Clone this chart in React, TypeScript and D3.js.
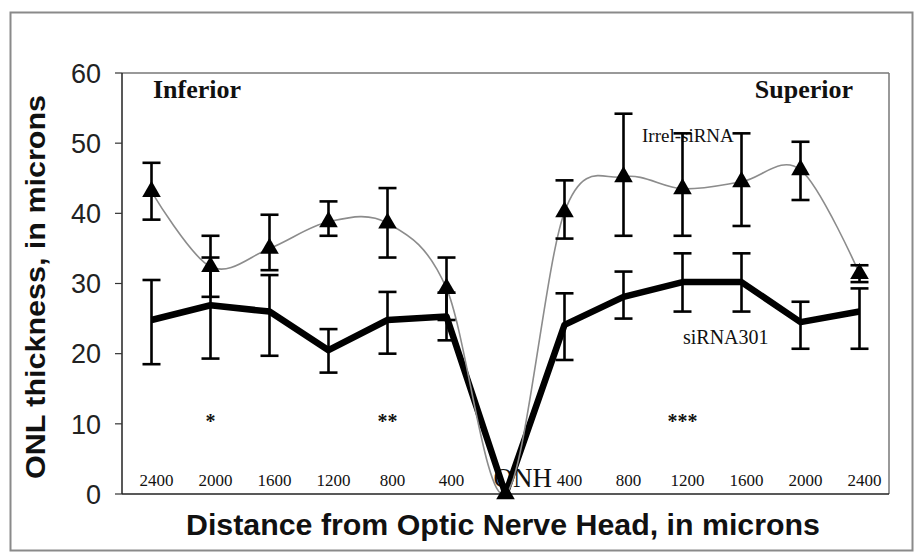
import React from "react";
import * as d3 from "d3";

const categories = ["I2400", "I2000", "I1600", "I1200", "I800", "I400", "ONH", "S400", "S800", "S1200", "S1600", "S2000", "S2400"];
const tickLabels = ["2400", "2000", "1600", "1200", "800", "400", "ONH", "400", "800", "1200", "1600", "2000", "2400"];
const irrel = [43.1, 32.4, 35.0, 38.8, 38.6, 29.3, 0, 40.2, 45.2, 43.5, 44.5, 46.2, 31.4];
const irrelLow = [39.1, 28.1, 31.9, 36.8, 33.7, 24.8, null, 36.4, 36.8, 36.8, 38.2, 41.9, 30.2];
const irrelHigh = [47.2, 36.8, 39.8, 41.7, 43.6, 33.7, null, 44.7, 54.2, 51.4, 51.4, 50.2, 32.6];
const sirna = [24.8, 26.9, 26.0, 20.5, 24.8, 25.3, 0, 24.1, 28.1, 30.2, 30.2, 24.5, 26.0];
const sirnaLow = [18.5, 19.3, 19.7, 17.3, 20.0, 21.9, null, 19.1, 25.0, 26.0, 26.0, 20.7, 20.7];
const sirnaHigh = [30.5, 33.7, 31.2, 23.5, 28.8, 28.7, null, 28.6, 31.7, 34.3, 34.3, 27.4, 29.3];
const yTicks = [0, 10, 20, 30, 40, 50, 60];
const stars = [
  { cat: "I2000", text: "*" },
  { cat: "I800", text: "**" },
  { cat: "S1200", text: "***" },
];

const W = 920;
const H = 556;
const L = 122, R = 889, T = 73, B = 494;
const SERIF = "'Liberation Serif', 'Times New Roman', serif";
const SANS = "'Liberation Sans', Arial, sans-serif";

export default function App() {
  const x = d3.scalePoint<string>().domain(categories).range([L, R]).padding(0.5);
  const y = d3.scaleLinear().domain([0, 60]).range([B, T]);

  const irrelLine = d3
    .line<number>()
    .x((_, i) => x(categories[i])!)
    .y((d) => y(d))
    .curve(d3.curveCatmullRom.alpha(0));
  const siLine = d3
    .line<number>()
    .x((_, i) => x(categories[i])!)
    .y((d) => y(d));
  const tri = d3.symbol().type(d3.symbolTriangle).size(150)()!;

  const errBars = (lo: (number | null)[], hi: (number | null)[], key: string) =>
    categories.map((c, i) => {
      const l = lo[i];
      const h = hi[i];
      if (l == null || h == null) return null;
      const cx = x(c)!;
      return (
        <g key={key + c} stroke="#000" strokeWidth={2.6}>
          <line x1={cx} x2={cx} y1={y(l)} y2={y(h)} />
          <line x1={cx - 9} x2={cx + 9} y1={y(l)} y2={y(l)} />
          <line x1={cx - 9} x2={cx + 9} y1={y(h)} y2={y(h)} />
        </g>
      );
    });

  return (
    <svg width={W} height={H} style={{ position: "absolute", left: 0, top: 0, background: "#fff" }}>
      <rect x={10.5} y={12.5} width={902} height={538} fill="#fff" stroke="#8a8a8a" strokeWidth={2} />
      {/* plot frame */}
      <line x1={L} x2={R} y1={T} y2={T} stroke="#777" strokeWidth={1.5} />
      <line x1={R} x2={R} y1={T} y2={B} stroke="#777" strokeWidth={1.5} />
      <line x1={L} x2={L} y1={T} y2={B} stroke="#222" strokeWidth={1.5} />
      <line x1={L} x2={R} y1={B} y2={B} stroke="#222" strokeWidth={1.5} />

      {yTicks.map((t) => (
        <g key={"yt" + t}>
          <line x1={L - 7} x2={L} y1={y(t)} y2={y(t)} stroke="#333" strokeWidth={1.2} />
          <text x={101} y={y(t)} dy="0.36em" textAnchor="end" fontFamily={SANS} fontSize={27} fill="#222">
            {t}
          </text>
        </g>
      ))}

      <text
        transform="translate(45,287) rotate(-90)"
        textAnchor="middle"
        fontFamily={SANS}
        fontWeight="bold"
        fontSize={28}
        textLength={384}
        lengthAdjust="spacingAndGlyphs"
        fill="#111"
      >
        ONL thickness, in microns
      </text>
      <text
        x={503}
        y={535}
        textAnchor="middle"
        fontFamily={SANS}
        fontWeight="bold"
        fontSize={29}
        textLength={634}
        lengthAdjust="spacingAndGlyphs"
        fill="#111"
      >
        Distance from Optic Nerve Head, in microns
      </text>

      <text x={153} y={98} fontFamily={SERIF} fontWeight="bold" fontSize={26} fill="#111">Inferior</text>
      <text x={853} y={98} textAnchor="end" fontFamily={SERIF} fontWeight="bold" fontSize={26} fill="#111">Superior</text>

      {tickLabels.map((t, i) =>
        t === "ONH" ? (
          <text key={"xl" + i} x={x(categories[i])! - 12} y={487} fontFamily={SERIF} fontSize={27} fill="#111">
            {t}
          </text>
        ) : (
          <text key={"xl" + i} x={x(categories[i])! + 5} y={486} textAnchor="middle" fontFamily={SERIF} fontSize={17} fill="#111">
            {t}
          </text>
        )
      )}

      {stars.map((s) => (
        <text key={"st" + s.cat} x={x(s.cat)!} y={428} textAnchor="middle" fontFamily={SERIF} fontWeight="bold" fontSize={20} fill="#111">
          {s.text}
        </text>
      ))}

      <text x={642} y={142} fontFamily={SERIF} fontSize={19} fill="#111">Irrel-siRNA</text>
      <text x={683} y={344} fontFamily={SERIF} fontSize={20} fill="#111">siRNA301</text>

      <path d={siLine(sirna)!} fill="none" stroke="#000" strokeWidth={6.5} strokeLinejoin="round" />
      <path d={irrelLine(irrel)!} fill="none" stroke="#8c8c8c" strokeWidth={1.6} />
      {errBars(sirnaLow, sirnaHigh, "s")}
      {errBars(irrelLow, irrelHigh, "i")}
      {irrel.map((v, i) => (
        <path key={"tr" + i} d={tri} transform={`translate(${x(categories[i])},${y(v)})`} fill="#000" />
      ))}
    </svg>
  );
}
